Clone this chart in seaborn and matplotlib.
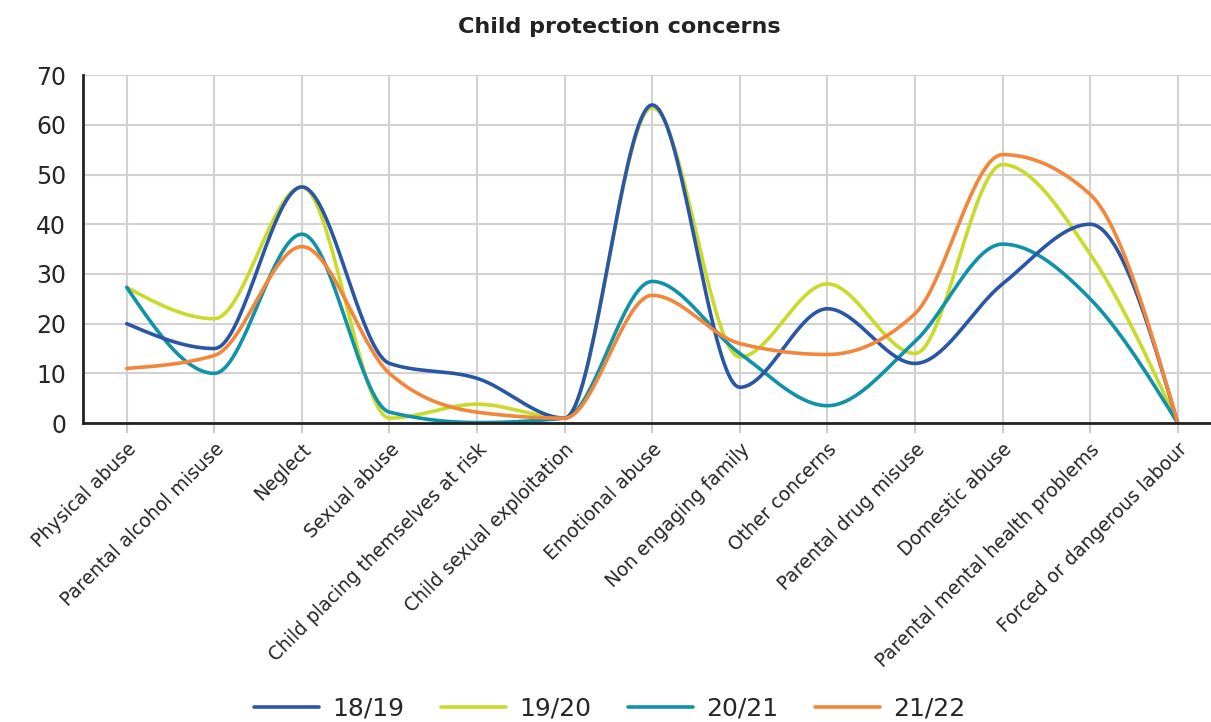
import numpy as np
import pandas as pd
import matplotlib.pyplot as plt
import matplotlib.transforms as mtransforms
import seaborn as sns

sns.set_style('white')
plt.rcParams['font.family'] = ['DejaVu Sans']

categories = ["Physical abuse", "Parental alcohol misuse", "Neglect", "Sexual abuse",
              "Child placing themselves at risk", "Child sexual exploitation",
              "Emotional abuse", "Non engaging family", "Other concerns",
              "Parental drug misuse", "Domestic abuse",
              "Parental mental health problems", "Forced or dangerous labour"]

y1819 = [20, 15, 47.5, 12, 9, 1, 64, 7.2, 23, 12, 28, 40, 0]
y1920 = [27.3, 21, 47.5, 1, 3.8, 1, 63.5, 13.3, 28, 14, 52, 34, 0]
y2021 = [27.3, 10, 38, 2.2, 0.1, 1, 28.5, 14, 3.5, 16.4, 36, 25, 0]
y2122 = [11, 13.6, 35.5, 10, 2.2, 1, 25.7, 16, 13.8, 22, 54, 46, 0]

series = {"18/19": y1819, "19/20": y1920, "20/21": y2021, "21/22": y2122}
colors = {"18/19": "#2a56a6", "19/20": "#c9da2b", "20/21": "#1093a8", "21/22": "#f4863a"}
zorders = {"18/19": 4, "19/20": 2, "20/21": 3, "21/22": 5}


def smooth(y, n=40):
    # monotone cubic (d3 monotoneX style) through the points
    y = np.asarray(y, dtype=float)
    m = len(y)
    s = np.diff(y)  # h = 1
    t = np.zeros(m)
    for i in range(1, m - 1):
        s0, s1 = s[i - 1], s[i]
        p = (s0 + s1) / 2
        t[i] = (np.sign(s0) + np.sign(s1)) * min(abs(s0), abs(s1), 0.5 * abs(p))
    t[0] = (3 * s[0] - t[1]) / 2
    t[-1] = (3 * s[-1] - t[-2]) / 2
    xs, ys = [], []
    u = np.linspace(0, 1, n)
    for i in range(m - 1):
        p1, p2 = y[i], y[i + 1]
        c1 = p1 + t[i] / 3
        c2 = p2 - t[i + 1] / 3
        xs.extend(i + u)
        ys.extend((1 - u) ** 3 * p1 + 3 * (1 - u) ** 2 * u * c1
                  + 3 * (1 - u) * u ** 2 * c2 + u ** 3 * p2)
    return np.array(xs), np.array(ys)


fig = plt.figure(figsize=(12.11, 7.22), dpi=100)
ax = fig.add_axes([0.0685, 0.414, 0.9315, 0.482])

for name, vals in series.items():
    xs, ys = smooth(vals)
    df = pd.DataFrame({"x": xs, "y": ys})
    sns.lineplot(data=df, x="x", y="y", ax=ax, color=colors[name], lw=2.6,
                 label=name, zorder=zorders[name], sort=False, estimator=None)

ax.set_xlim(-0.5, 12.38)
ax.set_ylim(0, 70)
ax.set_yticks(range(0, 71, 10))
ax.set_xticks(range(len(categories)))
ax.set_xticklabels(categories, rotation=45, ha='right', rotation_mode='anchor', fontsize=13.5)
shift = mtransforms.ScaledTranslation(-0.1, 0, fig.dpi_scale_trans)
for lab in ax.get_xticklabels():
    lab.set_transform(lab.get_transform() + shift)
ax.tick_params(axis='y', labelsize=17, length=0, pad=12)
ax.tick_params(axis='x', length=7, color='#cccccc', width=1.5, pad=5, direction='out', bottom=True)
ax.grid(True, color='#d2d2d2', lw=1.5)
ax.set_axisbelow(True)
ax.set_xlabel("")
ax.set_ylabel("")
for s in ['top', 'right']:
    ax.spines[s].set_visible(False)
for s in ['left', 'bottom']:
    ax.spines[s].set_color('#222222')
    ax.spines[s].set_linewidth(2)
    ax.spines[s].set_zorder(6)

fig.text(0.511, 0.962, "Child protection concerns", fontsize=16, fontweight='bold',
         ha='center', va='center', color='#222222')
ax.legend(loc='center', bbox_to_anchor=(0.467, -0.82), ncol=4, frameon=False,
          fontsize=18, handlelength=2.6, columnspacing=1.45, handletextpad=0.55)

fig.savefig("out.png", dpi=100)
